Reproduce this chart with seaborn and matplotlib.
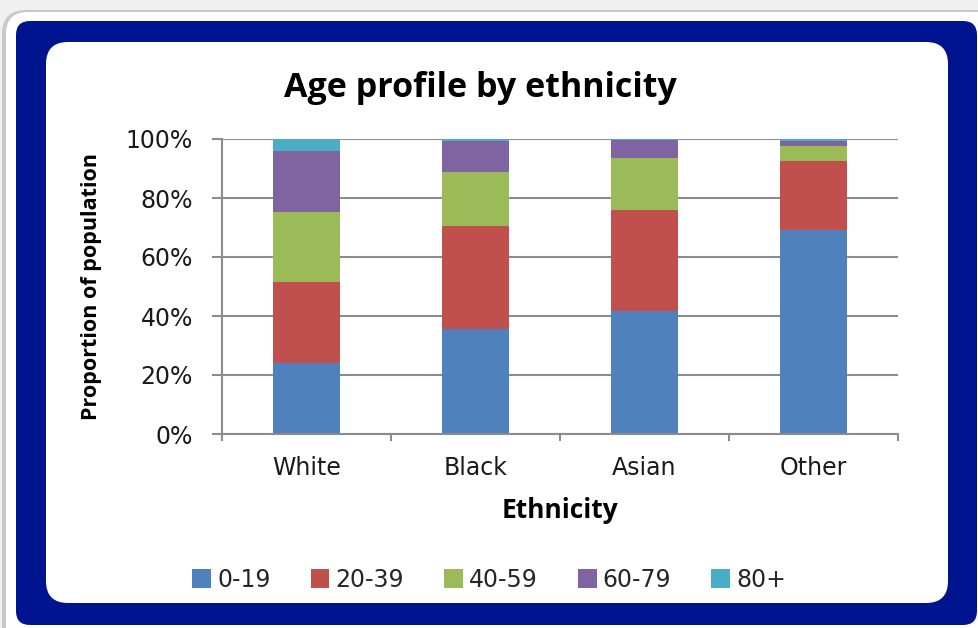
import matplotlib
matplotlib.use("Agg")
import matplotlib.pyplot as plt
from matplotlib.patches import FancyBboxPatch, Patch
import seaborn as sns
import pandas as pd

# ---- data ----
categories = ["White", "Black", "Asian", "Other"]
age_groups = ["0-19", "20-39", "40-59", "60-79", "80+"]
share_0_19 = [23.9, 35.5, 41.6, 69.3]
share_20_39 = [27.7, 34.9, 34.3, 23.4]
share_40_59 = [23.6, 18.3, 17.6, 5.0]
share_60_79 = [20.9, 10.7, 6.0, 1.7]
share_80p = [3.9, 0.6, 0.5, 0.6]
y_ticks = [0, 20, 40, 60, 80, 100]
colors = ["#4F81BD", "#C0504D", "#9BBB59", "#8064A2", "#4BACC6"]

series = [share_0_19, share_20_39, share_40_59, share_60_79, share_80p]
rows = []
for i, cat in enumerate(categories):
    cum = 0.0
    for g, vals in zip(age_groups, series):
        cum += vals[i]
        rows.append({"Ethnicity": cat, "Age": g, "cum": cum})
df = pd.DataFrame(rows)

sns.set_style("white")
plt.rcParams["font.family"] = ["DejaVu Sans"]

W, H = 979, 628
fig = plt.figure(figsize=(W / 100, H / 100), dpi=100)
fig.patch.set_facecolor("#f0f0f0")

# ---- background frame ----
bg = fig.add_axes([0, 0, 1, 1], zorder=0)
bg.set_xlim(0, W)
bg.set_ylim(H, 0)
bg.axis("off")
bg.add_patch(FancyBboxPatch((2, 10), 1000, 640, boxstyle="round,pad=0,rounding_size=24",
                            facecolor="#c8c8c8", edgecolor="none"))
bg.add_patch(FancyBboxPatch((6, 12), 1000, 640, boxstyle="round,pad=0,rounding_size=22",
                            facecolor="white", edgecolor="none"))
bg.add_patch(FancyBboxPatch((16, 21), 961, 604, boxstyle="round,pad=0,rounding_size=14",
                            facecolor="#001490", edgecolor="none"))
bg.add_patch(FancyBboxPatch((46, 42), 902, 561, boxstyle="round,pad=0,rounding_size=22",
                            facecolor="white", edgecolor="none"))

# ---- main axes ----
left, right, top, bottom = 222, 898, 139, 434
ax = fig.add_axes([left / W, 1 - bottom / H, (right - left) / W, (bottom - top) / H], zorder=1)
ax.set_facecolor("none")

for g, c in reversed(list(zip(age_groups, colors))):
    sub = df[df["Age"] == g]
    sns.barplot(data=sub, x="Ethnicity", y="cum", order=categories, color=c,
                saturation=1, width=0.4, errorbar=None, linewidth=0, ax=ax)

grid_c = "#8c8c8c"
ax.set_xlim(-0.5, len(categories) - 0.5)
ax.set_ylim(0, 100)
ax.set_yticks(y_ticks)
ax.set_yticklabels([f"{t}%" for t in y_ticks])
ax.set_axisbelow(True)
ax.yaxis.grid(True, color=grid_c, linewidth=1.5)
ax.xaxis.grid(False)
for s in ["top", "right"]:
    ax.spines[s].set_visible(False)
for s in ["left", "bottom"]:
    ax.spines[s].set_color(grid_c)
    ax.spines[s].set_linewidth(1.5)

ax.tick_params(axis="y", which="major", direction="out", length=7, width=1.5,
               color=grid_c, labelsize=17, pad=14, labelcolor="#1a1a1a", left=True)
ax.set_xticks(range(len(categories)))
ax.set_xticklabels(categories)
ax.set_xticks([i - 0.5 for i in range(len(categories) + 1)], minor=True)
ax.tick_params(axis="x", which="major", length=0, labelsize=17, pad=16, labelcolor="#1a1a1a")
ax.tick_params(axis="x", which="minor", direction="out", length=5, width=1.5, color=grid_c, bottom=True)

ax.set_ylabel("Proportion of population", family=["Open Sans", "DejaVu Sans"],
              fontweight="bold", fontsize=15.5, color="black")
ax.yaxis.set_label_coords(-0.178, 0.5)
ax.set_xlabel("Ethnicity", family=["Open Sans", "DejaVu Sans"], fontweight="bold",
              fontsize=19, color="black")
ax.xaxis.set_label_coords(0.5, -0.26)
ax.xaxis.label.set_va("center")

fig.text(480 / W, 1 - 88 / H, "Age profile by ethnicity", ha="center", va="center",
         family=["Open Sans", "DejaVu Sans"], fontweight="bold", fontsize=24.5, color="black")

handles = [Patch(facecolor=c, edgecolor="none") for c in colors]
fig.legend(handles, age_groups, loc="center", bbox_to_anchor=(489 / W, 1 - 580 / H), ncol=5,
           frameon=False, fontsize=17, handlelength=0.8, handleheight=0.85,
           handletextpad=0.25, columnspacing=1.7)

fig.savefig("out.png", dpi=100, facecolor=fig.get_facecolor())
